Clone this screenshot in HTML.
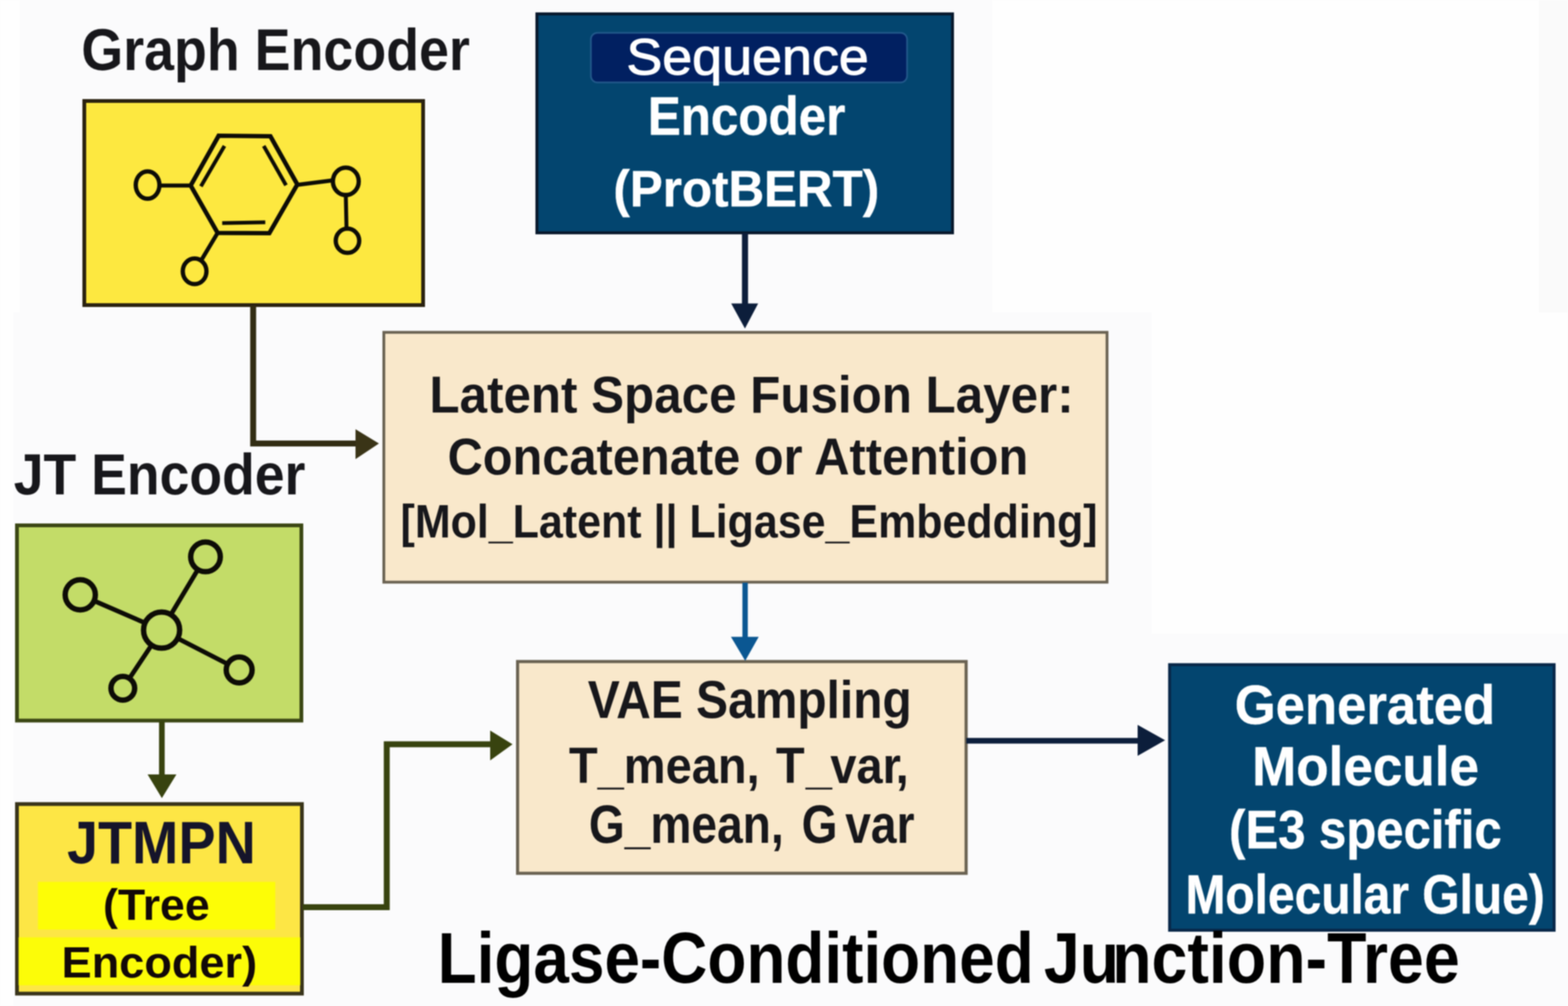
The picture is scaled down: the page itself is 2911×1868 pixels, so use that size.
<!DOCTYPE html>
<html lang="en">
<head>
<meta charset="utf-8">
<title>Ligase-Conditioned Junction-Tree</title>
<style>
html,body{margin:0;padding:0;background:#fbfbfc;}
body{width:2911px;height:1868px;overflow:hidden;}
svg{display:block;font-family:"Liberation Sans",sans-serif;filter:blur(1.3px);}
</style>
</head>
<body>
<svg width="2911" height="1868" viewBox="0 0 2911 1868">
<rect x="-20" y="-20" width="2951" height="1908" fill="#fbfbfc"/>
<rect x="1842" y="-20" width="1015" height="600" fill="#fefefe"/>
<rect x="2138" y="580" width="793" height="597" fill="#fefefe"/>
<rect x="-20" y="-20" width="57" height="600" fill="#fefefe"/>
<rect x="-20" y="580" width="45" height="1308" fill="#fefefe"/>
<rect x="2857" y="-20" width="74" height="600" fill="#fafafa"/>
<text transform="translate(151.01 130.20) scale(0.9197 1)" font-size="108.58" font-weight="700" fill="#17171b">Graph Encoder</text>
<rect x="156.5" y="187.5" width="629.0" height="379.0" fill="#fde840" stroke="#2a2210" stroke-width="7"/>
<polygon points="406,252 502,253 552,342.5 500,433 404,432.5 354,344.6" fill="none" stroke="#0d0c06" stroke-width="8.2" stroke-linejoin="miter"/>
<line x1="416.7" y1="271" x2="373" y2="346" stroke="#0d0c06" stroke-width="7" stroke-linecap="butt"/>
<line x1="489.6" y1="271" x2="531" y2="344" stroke="#0d0c06" stroke-width="7" stroke-linecap="butt"/>
<line x1="412.5" y1="414.2" x2="492.5" y2="412.8" stroke="#0d0c06" stroke-width="7" stroke-linecap="butt"/>
<line x1="297" y1="344.6" x2="354" y2="344.6" stroke="#0d0c06" stroke-width="7.5" stroke-linecap="butt"/>
<line x1="552" y1="343.2" x2="617" y2="335" stroke="#0d0c06" stroke-width="7.5" stroke-linecap="butt"/>
<line x1="642" y1="364" x2="643.3" y2="424" stroke="#0d0c06" stroke-width="7.3" stroke-linecap="butt"/>
<line x1="404" y1="432.5" x2="375" y2="481" stroke="#0d0c06" stroke-width="7.5" stroke-linecap="butt"/>
<ellipse cx="274" cy="343.6" rx="22" ry="25.4" fill="none" stroke="#0d0c06" stroke-width="8"/>
<ellipse cx="642" cy="336.7" rx="24" ry="25.4" fill="none" stroke="#0d0c06" stroke-width="8"/>
<ellipse cx="645.1" cy="447.1" rx="21.8" ry="22.5" fill="none" stroke="#0d0c06" stroke-width="8"/>
<ellipse cx="361.3" cy="503.8" rx="22" ry="23.8" fill="none" stroke="#0d0c06" stroke-width="8"/>
<rect x="996.8" y="25.8" width="771.5" height="406.5" fill="#03456f" stroke="#08182c" stroke-width="5.5"/>
<rect x="1097" y="61" width="587" height="92" rx="12" ry="12" fill="#012061" stroke="#245a8c" stroke-width="3"/>
<text transform="translate(1162.90 138.30) scale(1.0513 1)" font-size="95.06" font-weight="400" fill="#ffffff" stroke="#ffffff" stroke-width="1.76" stroke-linejoin="round">Sequence</text>
<text transform="translate(1202.71 250.30) scale(0.9084 1)" font-size="100.87" font-weight="700" fill="#ffffff" stroke="#ffffff" stroke-width="0.84" stroke-linejoin="round">Encoder</text>
<text transform="translate(1138.82 383.40) scale(0.9619 1)" font-size="95.20" font-weight="700" fill="#ffffff" stroke="#ffffff" stroke-width="0.82" stroke-linejoin="round">(ProtBERT)</text>
<line x1="1383.1" y1="433" x2="1383.1" y2="566" stroke="#0c1e3b" stroke-width="11.3" stroke-linecap="butt"/>
<polygon points="1357.5,563.5 1407.5,563.5 1383,610" fill="#0c1e3b"/>
<rect x="712.6" y="617.1" width="1342.6" height="463.9" fill="#f9e8cb" stroke="#6a6252" stroke-width="5.2"/>
<text transform="translate(797.32 766.30) scale(0.9504 1)" font-size="96.37" font-weight="700" fill="#17171b">Latent Space Fusion Layer:</text>
<text transform="translate(830.88 880.70) scale(0.9339 1)" font-size="96.95" font-weight="700" fill="#17171b">Concatenate or Attention</text>
<text transform="translate(743.61 997.80) scale(0.9100 1)" font-size="87.65" font-weight="700" fill="#17171b">[Mol_Latent || Ligase_Embedding]</text>
<polyline points="470,568 470,823.5 662,823.5" fill="none" stroke="#322d13" stroke-width="11" stroke-linejoin="miter"/>
<polygon points="660,797 660,852.5 703.5,823.5" fill="#3a3417"/>
<text transform="translate(25.51 918.20) scale(0.9257 1)" font-size="107.41" font-weight="700" fill="#17171b">JT Encoder</text>
<rect x="31.5" y="975.5" width="528.0" height="362.5" fill="#c3dc68" stroke="#3b4714" stroke-width="7"/>
<line x1="149" y1="1104.5" x2="300" y2="1170" stroke="#0d0c06" stroke-width="8.5" stroke-linecap="butt"/>
<line x1="381.5" y1="1034" x2="300" y2="1170" stroke="#0d0c06" stroke-width="8.5" stroke-linecap="butt"/>
<line x1="444" y1="1244" x2="300" y2="1170" stroke="#0d0c06" stroke-width="8.5" stroke-linecap="butt"/>
<line x1="228" y1="1278" x2="300" y2="1170" stroke="#0d0c06" stroke-width="8.5" stroke-linecap="butt"/>
<circle cx="300" cy="1170" r="33.5" fill="#c3dc68" stroke="#0d0c06" stroke-width="10"/>
<circle cx="381.5" cy="1034" r="27.5" fill="#c3dc68" stroke="#0d0c06" stroke-width="10"/>
<circle cx="149" cy="1104.5" r="28" fill="#c3dc68" stroke="#0d0c06" stroke-width="10"/>
<circle cx="444" cy="1244" r="24" fill="#c3dc68" stroke="#0d0c06" stroke-width="10"/>
<circle cx="228" cy="1278" r="22" fill="#c3dc68" stroke="#0d0c06" stroke-width="10"/>
<line x1="300.5" y1="1339" x2="300.5" y2="1440" stroke="#38430f" stroke-width="10.5" stroke-linecap="butt"/>
<polygon points="274,1438 327.5,1438 300.5,1482" fill="#38430f"/>
<rect x="31.5" y="1493.0" width="529.0" height="352.0" fill="#fde645" stroke="#39341a" stroke-width="7"/>
<rect x="34.5" y="1740.5" width="523" height="89" fill="#fcfc08"/>
<rect x="70.5" y="1637.5" width="440.5" height="88.5" fill="#fdfd06"/>
<text transform="translate(124.45 1603.00) scale(0.9361 1)" font-size="110.47" font-weight="700" fill="#15142a">JTMPN</text>
<text transform="translate(191.36 1708.40) scale(1.0242 1)" font-size="80.81" font-weight="700" fill="#120808">(Tree</text>
<text transform="translate(114.35 1815.10) scale(1.0271 1)" font-size="81.54" font-weight="700" fill="#120808">Encoder)</text>
<polyline points="562,1684.5 718,1684.5 718,1382 912,1382" fill="none" stroke="#38430f" stroke-width="11" stroke-linejoin="miter"/>
<polygon points="910,1356.5 910,1412 951.5,1382" fill="#38430f"/>
<rect x="960.9" y="1228.4" width="832.7" height="393.2" fill="#f9e8cb" stroke="#6a6252" stroke-width="5.8"/>
<text transform="translate(1091.33 1333.40) scale(0.9015 1)" font-size="98.69" font-weight="700" fill="#17171b">VAE Sampling</text>
<text transform="translate(1056.13 1453.70) scale(0.9170 1)" font-size="95.20" font-weight="700" fill="#17171b" dx="0 0 0 0 0 0 0 0 6.54 2.18 -3.27 0 0 -5.45">T_mean, T_var,</text>
<text transform="translate(1093.17 1565.00) scale(0.8565 1)" font-size="100.00" font-weight="700" fill="#17171b" dx="0 0 0 0 0 0 0 0 11.09 -11.09">G_mean, G var</text>
<line x1="1383.3" y1="1082" x2="1383.3" y2="1185" stroke="#0b5792" stroke-width="10" stroke-linecap="butt"/>
<polygon points="1357,1182.5 1408.5,1182.5 1383.5,1227" fill="#0b5792"/>
<line x1="1794" y1="1375.4" x2="2114" y2="1375.4" stroke="#0c1e3b" stroke-width="10.5" stroke-linecap="butt"/>
<polygon points="2112,1346 2112,1403.5 2163,1374.5" fill="#0c1e3b"/>
<rect x="2171.4" y="1234.2" width="713.8" height="493.1" fill="#03456f" stroke="#082748" stroke-width="5.5"/>
<text transform="translate(2292.19 1344.20) scale(0.9543 1)" font-size="102.47" font-weight="700" fill="#ffffff" stroke="#ffffff" stroke-width="0.82" stroke-linejoin="round">Generated</text>
<text transform="translate(2324.45 1457.60) scale(0.9649 1)" font-size="102.03" font-weight="700" fill="#ffffff" stroke="#ffffff" stroke-width="0.81" stroke-linejoin="round">Molecule</text>
<text transform="translate(2281.85 1575.30) scale(0.9157 1)" font-size="99.42" font-weight="700" fill="#ffffff" stroke="#ffffff" stroke-width="0.84" stroke-linejoin="round">(E3 specific</text>
<text transform="translate(2201.00 1696.20) scale(0.8700 1)" font-size="102.18" font-weight="700" fill="#ffffff" stroke="#ffffff" stroke-width="0.86" stroke-linejoin="round">Molecular Glue)</text>
<text transform="translate(812.50 1825.00) scale(0.8868 1)" font-size="133.72" font-weight="700" fill="#000000">Ligase-Conditioned</text>
<text transform="translate(1938.00 1825.00) scale(0.8954 1)" font-size="133.72" font-weight="700" fill="#000000" dx="0 0 -14.52">Junction-Tree</text>
</svg>
</body>
</html>
